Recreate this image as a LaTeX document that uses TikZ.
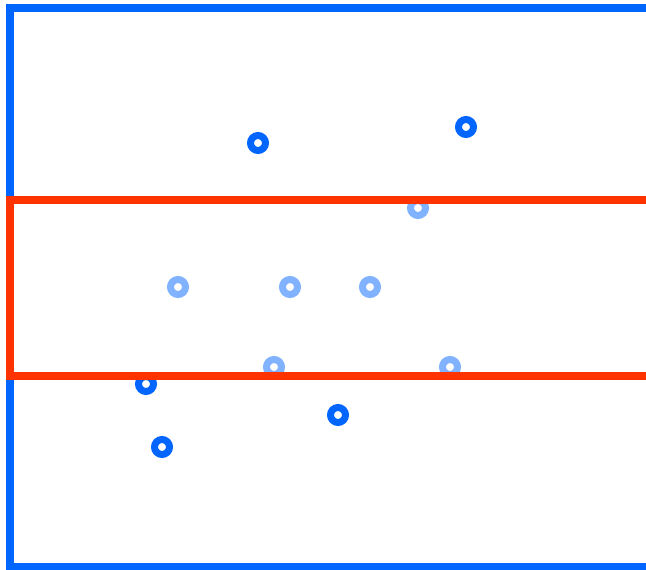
\documentclass[tikz,border=0pt]{standalone}
\definecolor{fblue}{HTML}{0066FF}
\definecolor{fred}{HTML}{FF3300}
\definecolor{lblue}{HTML}{80B2FF}
\begin{document}
\begin{tikzpicture}[x=1pt,y=-1pt,
  dpt/.style={circle,draw=fblue,fill=white,line width=7pt,minimum size=15pt,inner sep=0pt},
  lpt/.style={circle,draw=lblue,fill=white,line width=7pt,minimum size=15pt,inner sep=0pt},
  frame/.style={line width=8pt,line join=miter}]
\useasboundingbox (0,0) rectangle (646,570);
\clip (0,0) rectangle (646,570);
\coordinate (b1) at (660,8);
\coordinate (b2) at (10,8);
\coordinate (b3) at (10,567);
\coordinate (b4) at (660,567);
\draw[frame,draw=fblue] (b1) -- (b2) -- (b3) -- (b4);
\node[dpt] (d1) at (258,143) {};
\node[dpt] (d2) at (466,127) {};
\node[dpt] (d3) at (146,384) {};
\node[dpt] (d4) at (338,415) {};
\node[dpt] (d5) at (162,447) {};
\node[lpt] (l1) at (418,208) {};
\node[lpt] (l2) at (178,287) {};
\node[lpt] (l3) at (290,287) {};
\node[lpt] (l4) at (370,287) {};
\node[lpt] (l5) at (274,367) {};
\node[lpt] (l6) at (450,367) {};
\coordinate (r1) at (660,200);
\coordinate (r2) at (10,200);
\coordinate (r3) at (10,376);
\coordinate (r4) at (660,376);
\draw[frame,draw=fred] (r1) -- (r2) -- (r3) -- (r4);
\end{tikzpicture}
\end{document}
